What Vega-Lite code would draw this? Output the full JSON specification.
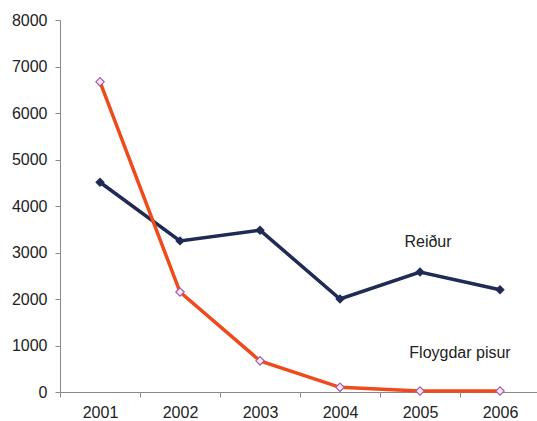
{
  "$schema": "https://vega.github.io/schema/vega-lite/v6.json",
  "width": 480,
  "height": 372,
  "autosize": {"type": "none"},
  "padding": {"left": 60, "top": 20, "right": 0, "bottom": 29},
  "background": "white",
  "config": {
    "view": {"stroke": null},
    "font": "Liberation Sans",
    "axis": {"grid": false, "domainColor": "#8a8a8a", "tickColor": "#8a8a8a", "labelColor": "#222222", "labelFontSize": 16, "labelFont": "Liberation Sans", "title": null, "tickSize": 5}
  },
  "data": {
    "values": [
      {"year": "2001", "series": "Reiður", "value": 4510},
      {"year": "2002", "series": "Reiður", "value": 3250},
      {"year": "2003", "series": "Reiður", "value": 3480},
      {"year": "2004", "series": "Reiður", "value": 2000},
      {"year": "2005", "series": "Reiður", "value": 2580},
      {"year": "2006", "series": "Reiður", "value": 2200},
      {"year": "2001", "series": "Floygdar pisur", "value": 6670},
      {"year": "2002", "series": "Floygdar pisur", "value": 2150},
      {"year": "2003", "series": "Floygdar pisur", "value": 670},
      {"year": "2004", "series": "Floygdar pisur", "value": 100},
      {"year": "2005", "series": "Floygdar pisur", "value": 20},
      {"year": "2006", "series": "Floygdar pisur", "value": 20}
    ]
  },
  "encoding": {
    "x": {"field": "year", "type": "ordinal", "scale": {"type": "band", "paddingInner": 0, "paddingOuter": 0}, "axis": {"labelAngle": 0, "tickBand": "extent", "labelPadding": 7, "tickSize": 5}},
    "y": {"field": "value", "type": "quantitative", "scale": {"domain": [0, 8000], "nice": false}, "axis": {"values": [0,1000,2000,3000,4000,5000,6000,7000,8000], "format": "d", "labelPadding": 8}}
  },
  "layer": [
    {
      "transform": [{"filter": "datum.series === 'Reiður'"}],
      "mark": {"type": "line", "color": "#1f2a55", "strokeWidth": 3.5}
    },
    {
      "transform": [{"filter": "datum.series === 'Reiður'"}],
      "mark": {"type": "point", "shape": "diamond", "filled": true, "color": "#1f2a55", "size": 90, "opacity": 1}
    },
    {
      "transform": [{"filter": "datum.series === 'Floygdar pisur'"}],
      "mark": {"type": "line", "color": "#f04a1c", "strokeWidth": 3.5}
    },
    {
      "transform": [{"filter": "datum.series === 'Floygdar pisur'"}],
      "mark": {"type": "point", "shape": "diamond", "filled": true, "fill": "#fbe4ec", "stroke": "#a060a8", "strokeWidth": 1.2, "size": 70, "opacity": 1}
    },
    {
      "data": {"values": [{"year": "2005", "value": 3230, "label": "Reiður"}]},
      "mark": {"type": "text", "fontSize": 16, "color": "#222222", "font": "Liberation Sans", "baseline": "middle", "dx": 8},
      "encoding": {
        "x": {"field": "year", "type": "ordinal"},
        "y": {"field": "value", "type": "quantitative"},
        "text": {"field": "label"}
      }
    },
    {
      "data": {"values": [{"year": "2006", "value": 840, "label": "Floygdar pisur"}]},
      "mark": {"type": "text", "fontSize": 16, "color": "#222222", "font": "Liberation Sans", "baseline": "middle", "dx": -40},
      "encoding": {
        "x": {"field": "year", "type": "ordinal"},
        "y": {"field": "value", "type": "quantitative"},
        "text": {"field": "label"}
      }
    }
  ]
}
